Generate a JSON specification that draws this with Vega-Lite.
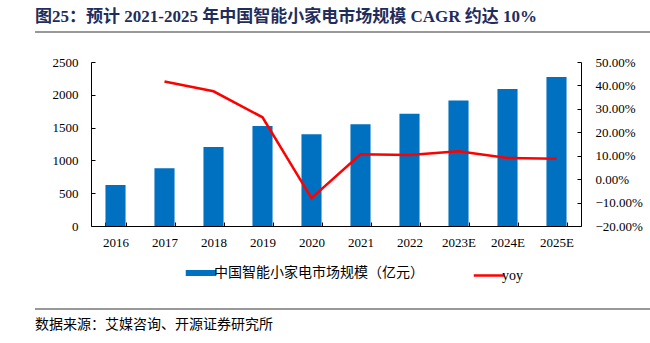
{
  "$schema": "https://vega.github.io/schema/vega-lite/v6.json",
  "padding": {"left": 34, "top": 8, "right": 0, "bottom": 0},
  "autosize": {"type": "pad"},
  "background": "white",
  "spacing": 23,
  "config": {"view": {"stroke": null}, "font": "Liberation Serif, Noto Sans CJK SC"},
  "resolve": {"scale": {"color": "independent"}, "legend": {"color": "independent"}},
  "title": {
    "text": "图25：预计 2021-2025 年中国智能小家电市场规模 CAGR 约达 10%",
    "anchor": "start", "frame": "group", "fontSize": 17, "fontWeight": "bold",
    "color": "#1F2D5C", "offset": 4, "font": "Liberation Serif, Noto Sans CJK SC"
  },
  "datasets": {
    "main": [
      {"year": "2016", "scale": 625, "yoy": null},
      {"year": "2017", "scale": 880, "yoy": 0.417},
      {"year": "2018", "scale": 1205, "yoy": 0.375},
      {"year": "2019", "scale": 1525, "yoy": 0.264},
      {"year": "2020", "scale": 1400, "yoy": -0.081},
      {"year": "2021", "scale": 1550, "yoy": 0.106},
      {"year": "2022", "scale": 1712, "yoy": 0.103},
      {"year": "2023E", "scale": 1915, "yoy": 0.119},
      {"year": "2024E", "scale": 2088, "yoy": 0.090},
      {"year": "2025E", "scale": 2272, "yoy": 0.087}
    ],
    "span": [{"a": 0, "b": 1}]
  },
  "vconcat": [
    {
      "spacing": 0,
      "vconcat": [
        {
          "width": 616,
          "height": 1,
          "data": {"values": [{"a": 0, "b": 1}]},
          "mark": {"type": "rule", "opacity": 0},
          "encoding": {
            "x": {"field": "a", "type": "quantitative", "scale": {"domain": [0, 1], "nice": false}, "axis": null},
            "x2": {"field": "b"}
          }
        },
        {
          "width": 616,
          "height": 2,
          "data": {"values": [{"a": 0, "b": 1}]},
          "mark": {"type": "rule", "color": "#999999", "strokeWidth": 2},
          "encoding": {
            "x": {"field": "a", "type": "quantitative", "scale": {"domain": [0, 1], "nice": false}, "axis": null},
            "x2": {"field": "b"},
            "y": {"datum": 0.5, "type": "quantitative", "scale": {"domain": [0, 1]}, "axis": null}
          }
        }
      ]
    },
    {
      "spacing": 16,
      "resolve": {"scale": {"color": "independent"}, "legend": {"color": "independent"}},
      "hconcat": [
        {
          "width": 1,
          "height": 164,
          "data": {"name": "span"},
          "mark": {"type": "rule", "opacity": 0},
          "encoding": {
            "y": {"field": "a", "type": "quantitative", "scale": {"domain": [0, 1]}, "axis": null}
          }
        },
        {
          "width": 490,
          "height": 164,
          "data": {"name": "main"},
          "encoding": {
            "x": {
              "field": "year", "type": "nominal", "sort": null,
              "scale": {"paddingInner": 0.59, "paddingOuter": 0.295},
              "axis": {
                "title": " ", "titleFontSize": 1, "titlePadding": 28,
                "labelAngle": 0, "labelFont": "Liberation Serif", "labelFontSize": 13,
                "labelColor": "#000000", "domainColor": "#000000", "tickColor": "#000000",
                "tickBand": "extent", "tickSize": -4, "labelPadding": 14
              }
            }
          },
          "layer": [
            {
              "mark": {"type": "bar"},
              "encoding": {
                "y": {
                  "field": "scale", "type": "quantitative",
                  "scale": {"domain": [0, 2500], "nice": false},
                  "axis": {
                    "title": null, "values": [0, 500, 1000, 1500, 2000, 2500], "format": "d", "grid": false,
                    "labelFont": "Liberation Serif", "labelFontSize": 13, "labelColor": "#000000",
                    "domainColor": "#000000", "tickColor": "#000000", "tickSize": -4, "labelPadding": 17
                  }
                },
                "color": {
                  "datum": "中国智能小家电市场规模（亿元）",
                  "scale": {"domain": ["中国智能小家电市场规模（亿元）", "yoy"], "range": ["#0070C0", "#FF0000"]},
                  "legend": {
                    "orient": "none", "legendX": 103, "legendY": 204, "direction": "horizontal",
                    "title": null, "symbolType": "stroke", "symbolSize": 930, "symbolStrokeWidth": 6,
                    "labelFont": "Liberation Serif, Noto Sans CJK SC", "labelFontSize": 14, "labelColor": "#000000",
                    "labelLimit": 300, "columnPadding": 44, "labelOffset": 6, "padding": 0,
                    "encode": {
                      "symbols": {
                        "update": {
                          "stroke": {"scale": "color", "field": "value"},
                          "fill": {"value": "transparent"},
                          "strokeWidth": {"signal": "datum.value === 'yoy' ? 2.5 : 6"}
                        }
                      }
                    }
                  }
                }
              }
            },
            {
              "mark": {"type": "line", "strokeWidth": 2.5},
              "encoding": {
                "y": {
                  "field": "yoy", "type": "quantitative",
                  "scale": {"domain": [-0.2, 0.5], "nice": false},
                  "axis": {
                    "orient": "right", "title": null, "format": ".2%",
                    "values": [-0.2, -0.1, 0, 0.1, 0.2, 0.3, 0.4, 0.5], "grid": false,
                    "labelFont": "Liberation Serif", "labelFontSize": 13, "labelColor": "#000000",
                    "domainColor": "#000000", "tickColor": "#000000", "tickSize": -4, "labelPadding": 18
                  }
                },
                "color": {"datum": "yoy"}
              }
            }
          ],
          "resolve": {"scale": {"y": "independent"}}
        }
      ]
    },
    {
      "width": 616,
      "height": 1,
      "data": {"name": "span"},
      "mark": {"type": "rule", "color": "#333333", "strokeWidth": 1},
      "encoding": {
        "x": {"field": "a", "type": "quantitative", "scale": {"domain": [0, 1], "nice": false}, "axis": null},
        "x2": {"field": "b"},
        "y": {"datum": 1, "type": "quantitative", "scale": {"domain": [0, 1]}, "axis": null}
      },
      "title": {
        "text": "数据来源：艾媒咨询、开源证券研究所", "orient": "bottom", "anchor": "start",
        "frame": "group", "fontSize": 14, "fontWeight": "normal", "color": "#000000", "offset": 8,
        "font": "Liberation Serif, Noto Sans CJK SC"
      }
    }
  ]
}
